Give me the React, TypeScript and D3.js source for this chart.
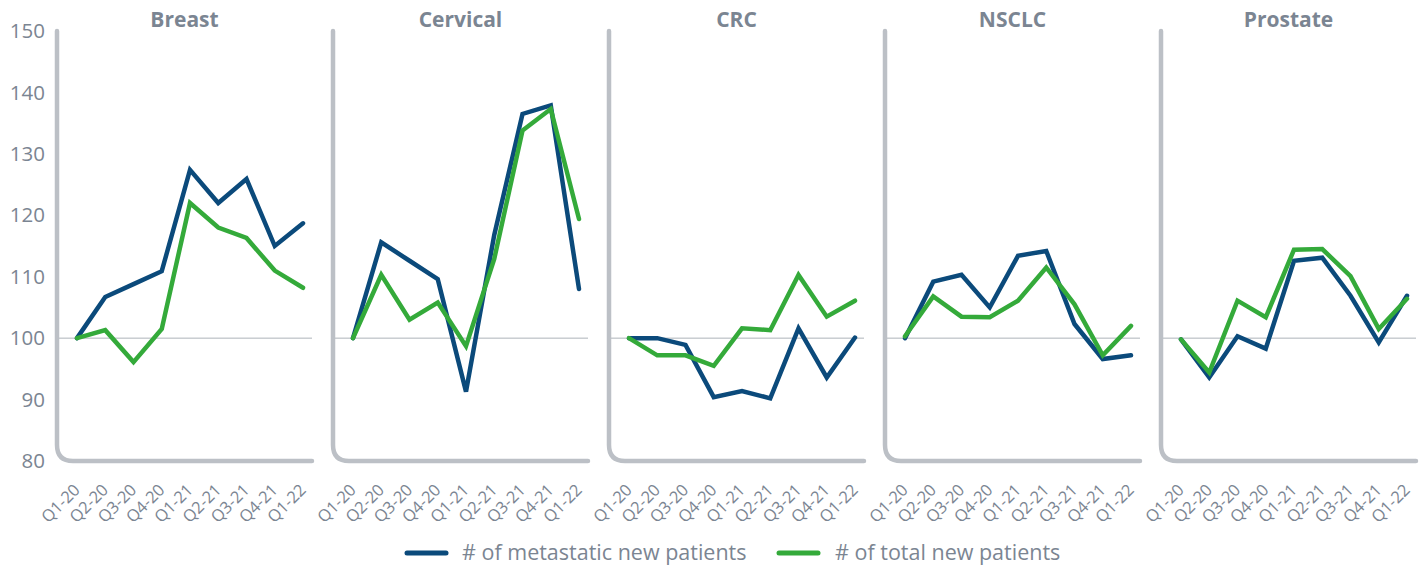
import * as d3 from 'd3'

const QUARTERS = ['Q1-20', 'Q2-20', 'Q3-20', 'Q4-20', 'Q1-21', 'Q2-21', 'Q3-21', 'Q4-21', 'Q1-22']
const CANCERS = ['Breast', 'Cervical', 'CRC', 'NSCLC', 'Prostate']
const Y_TICKS = [80, 90, 100, 110, 120, 130, 140, 150]

// # of metastatic new patients (index, Q1-20 = 100)
const METASTATIC = [
  [100, 106.7, 108.8, 110.9, 127.4, 122.0, 125.9, 115.0, 118.7],
  [100, 115.6, 112.6, 109.6, 91.3, 116.8, 136.5, 137.9, 108.0],
  [100, 100.0, 98.9, 90.4, 91.4, 90.2, 101.6, 93.6, 100.1],
  [100, 109.2, 110.3, 105.0, 113.4, 114.2, 102.3, 96.6, 97.2],
  [99.8, 93.6, 100.3, 98.3, 112.6, 113.1, 106.9, 99.3, 106.9]
]

// # of total new patients
const TOTAL = [
  [100, 101.3, 96.1, 101.5, 122.0, 118.0, 116.3, 111.0, 108.2],
  [100, 110.3, 103.0, 105.8, 98.7, 112.9, 133.8, 137.3, 119.4],
  [100, 97.2, 97.2, 95.5, 101.6, 101.3, 110.3, 103.5, 106.1],
  [100.3, 106.8, 103.5, 103.4, 106.1, 111.5, 105.5, 97.2, 102.0],
  [99.8, 94.4, 106.1, 103.4, 114.4, 114.5, 110.1, 101.5, 106.4]
]

const NAVY = '#0b4a7b'
const GREEN = '#34aa3a'
const AXIS_GREY = '#bcc0c6'
const TEXT_GREY = '#7b8592'

export default function App() {
  const width = 1424
  const height = 566
  const top = 31
  const bottom = 461
  const panelStart = 57
  const panelStep = 276
  const panelWidth = 255
  const corner = 16

  const y = d3.scaleLinear().domain([80, 150]).range([bottom, top])

  const line = d3.line<number>().curve(d3.curveLinear)

  return (
    <svg width={width} height={height} style={{ position: 'absolute', left: 0, top: 0 }}
      fontFamily="'Open Sans', sans-serif">
      {/* y tick labels */}
      {Y_TICKS.map(t => (
        <text key={t} x={45} y={y(t)} dy="0.35em" textAnchor="end" fontSize={20.5} fill={TEXT_GREY}>
          {t}
        </text>
      ))}

      {CANCERS.map((name, i) => {
        const ax = panelStart + i * panelStep
        const x = d3.scalePoint().domain(QUARTERS).range([ax + 20, ax + 246])
        const axisPath = `M${ax},${top} L${ax},${bottom - corner} Q${ax},${bottom} ${ax + corner},${bottom} L${ax + panelWidth},${bottom}`
        const pts = (vals: number[]) => vals.map((v, j) => [x(QUARTERS[j])!, y(v)] as [number, number])
        return (
          <g key={name}>
            <text x={ax + panelWidth / 2} y={20} dy="0.35em" textAnchor="middle" fontSize={21}
              fontWeight="bold" fill={TEXT_GREY}>{name}</text>
            <line x1={ax} x2={ax + panelWidth} y1={y(100)} y2={y(100)} stroke="#adb3ba" strokeWidth={1} />
            <path d={axisPath} fill="none" stroke={AXIS_GREY} strokeWidth={4.5} strokeLinecap="round" />
            <path d={line(pts(METASTATIC[i]))!} fill="none" stroke={NAVY} strokeWidth={4.5}
              strokeLinejoin="miter" strokeLinecap="round" />
            <path d={line(pts(TOTAL[i]))!} fill="none" stroke={GREEN} strokeWidth={4.5}
              strokeLinejoin="miter" strokeLinecap="round" />
            {QUARTERS.map(q => (
              <text key={q} transform={`translate(${x(q)! + 4},${491}) rotate(-45)`} textAnchor="end"
                fontSize={16.5} fill={TEXT_GREY}>{q}</text>
            ))}
          </g>
        )
      })}

      {/* legend */}
      <g>
        <line x1={407} x2={446} y1={553} y2={553} stroke={NAVY} strokeWidth={5} strokeLinecap="round" />
        <text x={462} y={552} dy="0.35em" fontSize={21.5} fill={TEXT_GREY}># of metastatic new patients</text>
        <line x1={779} x2={818} y1={553} y2={553} stroke={GREEN} strokeWidth={5} strokeLinecap="round" />
        <text x={835} y={552} dy="0.35em" fontSize={21.5} fill={TEXT_GREY}># of total new patients</text>
      </g>
    </svg>
  )
}
